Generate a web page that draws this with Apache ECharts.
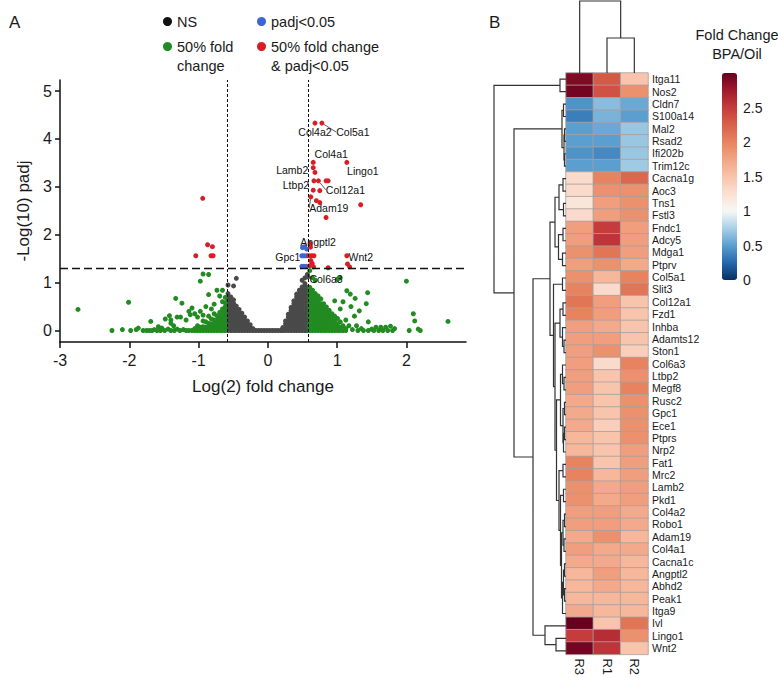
<!DOCTYPE html>
<html>
<head>
<meta charset="utf-8">
<script src="https://cdn.jsdelivr.net/npm/echarts@6/dist/echarts.min.js"></script>
<style>
  html, body { margin: 0; padding: 0; background: #fff; }
  #chart { width: 778px; height: 678px; }
</style>
</head>
<body>
<div id="chart"></div>
<script>
const FONT = "'Liberation Sans', Arial, sans-serif";

// ---------- panel A : volcano plot (x = log2 fold change, y = -log10 padj) ----------
// grey cloud, read column by column: [x, [y...]]
const nsCols = [
  [-0.575, [0, .07, .14, .21, .28, .35, .42, .49, .56, .63, .70, .77, .95]],
  [-0.535, [0, .07, .14, .21, .28, .35, .42, .49, .56, .63, .70]],
  [-0.495, [0, .07, .14, .21, .28, .35, .42, .49, .57, .64, .93]],
  [-0.455, [0, .07, .14, .21, .28, .35, .43, .51, 1.09]],
  [-0.415, [0, .07, .14, .21, .28, .36, .44]],
  [-0.375, [0, .07, .14, .21, .28, .36]],
  [-0.335, [0, .07, .14, .21, .28]],
  [-0.295, [0, .07, .14, .2]],
  [-0.255, [0, .06, .12]],
  [-0.215, [0, .04]],
  [-0.175, [0]], [-0.135, [0]], [-0.095, [0]], [-0.055, [0]], [-0.015, [0]],
  [0.025, [0]], [0.065, [0]], [0.105, [0]], [0.145, [0]], [0.185, [0]],
  [0.215, [0, .06]],
  [0.255, [0, .07, .14, .2]],
  [0.295, [0, .07, .14, .21, .28, .34]],
  [0.335, [0, .07, .14, .21, .28, .35, .42, .48]],
  [0.375, [0, .07, .14, .21, .28, .35, .42, .49, .56, .62]],
  [0.415, [0, .07, .14, .21, .28, .35, .42, .49, .56, .63, .7, .76]],
  [0.455, [0, .07, .14, .21, .28, .35, .42, .49, .56, .63, .7, .77, .84]],
  [0.495, [0, .07, .14, .21, .28, .35, .42, .49, .56, .63, .7, .77, .84, .91, 1.05]],
  [0.535, [0, .07, .14, .21, .28, .35, .42, .49, .56, .63, .7, .77, .84, .91, .98, 1.1]],
  [0.57, [0, .07, .14, .21, .28, .35, .42, .49, .56, .63, .7, .77, .84, .9, 1.17]]
];
const nsNamed = [[0.58, 1.12, 'Col6a3']];

// green: |log2FC| > 0.585, padj not significant
const fcCols = [
  [-0.615, [0, .07, .14, .21, .28, .35, .42, .5, .58, .69]],
  [-0.655, [0, .07, .14, .21, .28, .36, .45, .6, .84]],
  [-0.695, [0, .07, .14, .21, .29, .38, .72]],
  [-0.735, [0, .07, .14, .22, .31, .84]],
  [-0.775, [0, .07, .14, .22, .35, .55]],
  [-0.815, [0, .07, .14, .24, .45]],
  [-0.855, [0, .07, .15, .3, .75, 1.17]],
  [-0.895, [0, .07, .18, .5]],
  [-0.935, [0, .08, .2, .32, 1.18]],
  [-0.975, [0, .07, .4, 1.03]],
  [-1.015, [0, .1, .28]],
  [-1.055, [0, .04, .35]],
  [-1.095, [0, .47]],
  [0.605, [0, .07, .14, .21, .28, .35, .42, .49, .56, .63, .7, .77, .84, .9, 1.25]],
  [0.645, [0, .07, .14, .21, .28, .35, .42, .49, .56, .63, .7, .77, .84, 1.1]],
  [0.685, [0, .07, .14, .21, .28, .35, .42, .49, .56, .63, .7, .77, 1.05]],
  [0.725, [0, .07, .14, .21, .28, .35, .42, .49, .56, .63, .72]],
  [0.765, [0, .07, .14, .21, .28, .35, .42, .49, .56, .66]],
  [0.805, [0, .07, .14, .21, .28, .35, .42, .49, .56]],
  [0.845, [0, .07, .14, .21, .28, .35, .42, .49]],
  [0.885, [0, .07, .14, .21, .28, .35, .42]],
  [0.925, [0, .07, .14, .21, .28, .35]],
  [0.965, [0, .07, .14, .21, .3, .62]],
  [1.005, [0, .07, .14, .25, 1.07]],
  [1.045, [0, .07, .18, .45, 1.1]],
  [1.085, [0, .1, .6]],
  [1.125, [0, .04, .22]]
];
const fcScatter = [
  [-2.74, .44], [-2.25, 0], [-2.1, .02], [-2.01, .59], [-1.98, 0], [-1.9, .02], [-1.87, .05],
  [-1.8, 0], [-1.75, 0], [-1.71, 0], [-1.69, .19], [-1.67, 0], [-1.64, .02], [-1.6, 0],
  [-1.58, .08], [-1.55, 0], [-1.53, .05], [-1.49, 0], [-1.48, .24], [-1.44, .03], [-1.42, .31],
  [-1.4, .22], [-1.4, .15], [-1.4, 0], [-1.36, .1], [-1.35, 0], [-1.33, .67], [-1.31, .28],
  [-1.31, .03], [-1.27, 0], [-1.26, .28], [-1.24, .57], [-1.22, .02], [-1.18, .22], [-1.18, 0],
  [-1.14, .4], [-1.14, 0], [-1.12, .33],
  [1.14, .83], [1.19, .76], [1.17, .1], [1.2, .5], [1.22, .02], [1.25, .3], [1.26, .67],
  [1.28, .1], [1.3, 0], [1.32, .41], [1.35, .04], [1.38, 0], [1.42, .56], [1.44, .79],
  [1.45, .18], [1.45, 0], [1.5, .03], [1.53, 0], [1.56, .07], [1.6, 0], [1.63, .07], [1.66, 0],
  [1.7, .07], [1.73, 0], [1.77, .09], [1.8, 0], [1.83, .04], [2.0, 1.03], [2.04, 0],
  [2.1, .35], [2.12, .2], [2.17, .03], [2.2, 0], [2.6, .19]
];

// blue: padj < 0.05 only
const padjPts = [
  [0.50, 1.73], [0.53, 1.75], [0.56, 1.70], [0.49, 1.56, 'Gpc1'], [0.52, 1.56], [0.555, 1.56],
  [0.49, 1.34], [0.52, 1.34], [0.555, 1.34]
];

// red: both thresholds
const sigPts = [
  [-0.94, 2.76], [-0.87, 1.79], [-0.80, 1.75], [-1.04, 1.56], [-0.82, 1.56], [-0.79, 1.56],
  [0.68, 4.33, 'Col4a2'], [0.78, 4.33, 'Col5a1'],
  [0.655, 3.51, 'Col4a1'], [1.14, 3.51, 'Lingo1'], [0.655, 3.40, 'Lamb2'], [0.68, 3.30],
  [0.665, 3.125, 'Ltbp2'], [0.73, 3.125, 'Col12a1'], [0.84, 3.125], [0.87, 3.125],
  [0.655, 2.93], [0.75, 2.92], [0.62, 2.79, 'Adam19'], [0.70, 2.71], [0.75, 2.67],
  [1.34, 2.625], [0.84, 2.36],
  [0.61, 1.82, 'Angptl2'], [0.615, 1.74], [0.59, 1.56], [0.63, 1.56], [0.665, 1.56],
  [0.62, 1.46], [0.64, 1.40], [0.60, 1.35], [0.66, 1.33], [0.87, 1.31],
  [1.14, 1.56, 'Wnt2'], [1.15, 1.39], [1.18, 1.33]
];

const xTicks = [-3, -2, -1, 0, 1, 2];
const yTicks = [0, 1, 2, 3, 4, 5];
const fcCut = 0.585;    // log2(1.5)
const padjCut = 1.301;  // -log10(0.05)

// label placement (dx, dy from the point) and which get a guide line
const labelNudge = {
  Col4a2: [0, 9], Col5a1: [31, 9], Col4a1: [18, -8], Lingo1: [16, 9], Lamb2: [-21, 2],
  Ltbp2: [-18, 4], Col12a1: [27, 9], Adam19: [18, 11], Angptl2: [8, -1], Gpc1: [-14, 1],
  Wnt2: [14, 1], Col6a3: [18, 2]
};
const withLine = ['Col5a1', 'Col12a1', 'Adam19', 'Col6a3'];

// ---------- panel B : heatmap ----------
const samples = ['R3', 'R1', 'R2'];
const genes = ['Itga11', 'Nos2', 'Cldn7', 'S100a14', 'Mal2', 'Rsad2', 'Ifi202b', 'Trim12c',
  'Cacna1g', 'Aoc3', 'Tns1', 'Fstl3', 'Fndc1', 'Adcy5', 'Mdga1', 'Ptprv', 'Col5a1', 'Slit3',
  'Col12a1', 'Fzd1', 'Inhba', 'Adamts12', 'Ston1', 'Col6a3', 'Ltbp2', 'Megf8', 'Rusc2', 'Gpc1',
  'Ece1', 'Ptprs', 'Nrp2', 'Fat1', 'Mrc2', 'Lamb2', 'Pkd1', 'Col4a2', 'Robo1', 'Adam19',
  'Col4a1', 'Cacna1c', 'Angptl2', 'Abhd2', 'Peak1', 'Itga9', 'Ivl', 'Lingo1', 'Wnt2'];
// fold change BPA/Oil per gene: [R3, R1, R2]
const foldChange = [
  [2.9, 2.3, 1.5], [2.95, 2.35, 1.9], [0.45, 0.65, 0.55], [0.35, 0.6, 0.5],
  [0.5, 0.55, 0.7], [0.5, 0.5, 0.7], [0.45, 0.4, 0.7], [0.5, 0.5, 0.72],
  [1.3, 2.0, 2.2], [1.3, 1.9, 1.9], [1.2, 1.8, 1.9], [1.3, 1.8, 1.9],
  [1.8, 2.5, 1.8], [1.8, 2.55, 1.8], [1.9, 2.1, 1.8], [1.8, 1.9, 1.7],
  [1.9, 1.6, 2.0], [2.0, 1.3, 2.1], [2.1, 1.8, 1.5], [2.0, 1.8, 1.5],
  [1.8, 1.7, 1.5], [1.8, 1.8, 1.5], [1.8, 1.9, 1.4], [1.8, 1.3, 2.0],
  [1.8, 1.5, 1.9], [1.8, 1.5, 2.0], [1.7, 1.5, 1.9], [1.7, 1.5, 1.9],
  [1.7, 1.4, 1.9], [1.6, 1.5, 1.9], [1.6, 1.5, 1.8], [2.0, 1.5, 1.8],
  [2.0, 1.6, 1.8], [1.9, 1.7, 1.8], [1.9, 1.7, 1.8], [1.8, 1.8, 1.7],
  [1.8, 1.8, 1.7], [1.7, 1.9, 1.6], [1.8, 1.7, 1.7], [1.7, 1.7, 1.6],
  [1.6, 1.8, 1.6], [1.6, 1.7, 1.6], [1.6, 1.6, 1.6], [1.7, 1.6, 1.6],
  [3.0, 1.5, 2.1], [2.5, 2.6, 1.9], [2.95, 2.55, 1.5]
];
const legendTicks = [0, 0.5, 1, 1.5, 2, 2.5];

// dendrograms: [left, right, merge height], leaves are row / column indices
const rowTree = [
  [0, 1, 0.6],
  [
    [[2, 3, 0.25], [[4, 5, 0.15], [6, 7, 0.15], 0.2], 0.4],
    [
      [
        [[[8, 9, 0.3], [10, 11, 0.25], 0.7], [[12, 13, 0.3], [14, 15, 0.35], 0.75], 1.1],
        [
          [16, 17, 0.35],
          [
            [[18, 19, 0.3], [20, [21, 22, 0.2], 0.35], 0.6],
            [
              [[23, [24, 25, 0.2], 0.35], [[26, 27, 0.15], [[28, 29, 0.15], 30, 0.25], 0.3], 0.55],
              [[31, 32, 0.3], [[33, 34, 0.25], [[[35, 36, 0.15], [37, 38, 0.2], 0.3],
                [[[39, 40, 0.15], [41, 42, 0.15], 0.25], 43, 0.35], 0.45], 0.55], 0.7],
              0.95
            ],
            1.1
          ],
          1.25
        ],
        1.6
      ],
      [44, [45, 46, 1.0], 2.1],
      3.3
    ],
    5.2
  ],
  7.2
];
const colTree = [0, [1, 2, 3.55], 7.3];

function colsToPts(cols) {
  const out = [];
  cols.forEach(([x, ys]) => ys.forEach(y => out.push([x, y])));
  return out;
}

function toItems(pts) {
  return pts.map(p => {
    if (!p[2]) return [p[0], p[1]];
    return {
      value: [p[0], p[1]],
      name: p[2],
      label: { show: true, formatter: p[2] },
      labelLine: { show: withLine.includes(p[2]) }
    };
  });
}

function dendro(node, segs) {
  if (typeof node === 'number') return { pos: node, h: 0 };
  const a = dendro(node[0], segs);
  const b = dendro(node[1], segs);
  const h = node[2];
  segs.push([[a.h, a.pos], [h, a.pos], [h, b.pos], [b.h, b.pos]]);
  return { pos: (a.pos + b.pos) / 2, h };
}

const rowSegs = [];
dendro(rowTree, rowSegs);
const colSegs = [];
dendro(colTree, colSegs);

const heatData = [];
foldChange.forEach((row, gi) => row.forEach((v, si) => heatData.push([si, gi, v])));

// a blank first line keeps the dot level with the first line of a two-line entry
const legendText = {
  'NS': 'NS',
  'padj<0.05': 'padj<0.05',
  '50% fold change': '\n50% fold\nchange',
  '50% fold change & padj<0.05': '\n50% fold change\n& padj<0.05'
};

const pointLabel = {
  show: false,
  position: 'inside',
  fontSize: 10.5,
  color: '#111',
  fontFamily: FONT
};
function nudgeLayout(params) {
  const n = labelNudge[params.text];
  if (!n) return {};
  return { dx: n[0], dy: n[1] };
}

const legendBase = {
  selectedMode: false,
  icon: 'circle',
  itemWidth: 9,
  itemHeight: 9,
  padding: 0,
  orient: 'vertical',
  formatter: name => legendText[name],
  textStyle: { fontSize: 14.5, color: '#1a1a1a', fontFamily: FONT, lineHeight: 19 }
};

const chart = echarts.init(document.getElementById('chart'), null, { renderer: 'svg' });

const option = {
  animation: false,
  textStyle: { fontFamily: FONT },
  title: [
    { text: 'A', left: 4, top: 9, textStyle: { fontSize: 17, fontWeight: 'normal', color: '#1a1a1a' } },
    { text: 'B', left: 484, top: 9, textStyle: { fontSize: 17, fontWeight: 'normal', color: '#1a1a1a' } },
    {
      text: 'Fold Change\nBPA/Oil', left: 732, top: 20, textAlign: 'center',
      textStyle: { fontSize: 14.5, fontWeight: 'normal', color: '#1a1a1a', lineHeight: 19 }
    }
  ],
  legend: [
    Object.assign({}, legendBase, { left: 163, top: 12, data: [{ name: 'NS', itemStyle: { color: '#111' } }] }),
    Object.assign({}, legendBase, { left: 257, top: 12, data: ['padj<0.05'] }),
    Object.assign({}, legendBase, { left: 163, top: 18, data: ['50% fold change'] }),
    Object.assign({}, legendBase, { left: 257, top: 18, data: ['50% fold change & padj<0.05'] })
  ],
  grid: [
    { left: 60, top: 80, width: 406, height: 262 },      // volcano
    { left: 492, top: 73, width: 74, height: 584 },      // row dendrogram
    { left: 566, top: 73, width: 82, height: 584 },      // heatmap
    { left: 566, top: 0, width: 82, height: 73 },        // column dendrogram
    { left: 722, top: 73, width: 15, height: 207 }       // colour bar axis
  ],
  xAxis: [
    {
      gridIndex: 0, type: 'value', min: -3, max: 2.86,
      name: 'Log(2) fold change', nameLocation: 'middle', nameGap: 36,
      nameTextStyle: { fontSize: 17, color: '#1a1a1a' },
      splitLine: { show: false },
      axisLine: { onZero: false, lineStyle: { color: '#111', width: 1.5 } },
      axisTick: { length: 6, customValues: xTicks, lineStyle: { color: '#111', width: 1.5 } },
      axisLabel: { customValues: xTicks, fontSize: 16, color: '#1a1a1a', margin: 10 }
    },
    { gridIndex: 1, type: 'value', min: 0, max: 7.4, inverse: true, show: false },
    {
      gridIndex: 2, type: 'category', data: samples, position: 'bottom',
      axisLine: { show: false }, axisTick: { show: false },
      axisLabel: { rotate: -90, fontSize: 13, color: '#1a1a1a', margin: 4 }
    },
    { gridIndex: 3, type: 'value', min: -0.5, max: 2.5, show: false },
    { gridIndex: 4, type: 'value', min: 0, max: 1, show: false }
  ],
  yAxis: [
    {
      gridIndex: 0, type: 'value', min: -0.24, max: 5.23,
      name: '-Log(10) padj', nameLocation: 'middle', nameGap: 22, nameRotate: 90,
      nameTextStyle: { fontSize: 17, color: '#1a1a1a' },
      splitLine: { show: false },
      axisLine: { onZero: false, lineStyle: { color: '#111', width: 1.5 } },
      axisTick: { length: 5, customValues: yTicks, lineStyle: { color: '#111', width: 1.5 } },
      axisLabel: { customValues: yTicks, fontSize: 16, color: '#1a1a1a', margin: 8 }
    },
    { gridIndex: 1, type: 'value', min: -0.5, max: 46.5, inverse: true, show: false },
    {
      gridIndex: 2, type: 'category', data: genes, inverse: true, position: 'right',
      axisLine: { show: false }, axisTick: { show: false },
      axisLabel: { interval: 0, fontSize: 10.5, lineHeight: 12, color: '#1a1a1a', margin: 4 }
    },
    { gridIndex: 3, type: 'value', min: 0, max: 7.4, show: false },
    {
      gridIndex: 4, type: 'value', min: 0, max: 3, position: 'right',
      axisLine: { show: false }, axisTick: { show: false }, splitLine: { show: false },
      axisLabel: { customValues: legendTicks, fontSize: 14, color: '#1a1a1a', margin: 6 }
    }
  ],
  visualMap: {
    type: 'continuous', min: 0, max: 3, seriesIndex: 4, calculable: false,
    left: 722, top: 73, itemWidth: 15, itemHeight: 207, padding: 0, text: ['', ''],
    inRange: {
      color: ['#053061', '#2468ad', '#5a9fcf', '#a9d0e6', '#f7f7f7', '#fbe0d2', '#f8c4ab',
        '#f2a484', '#e7845f', '#d8614a', '#c43c3b', '#a11a2c', '#67001f']
    }
  },
  series: [
    {
      name: 'NS', type: 'scatter', xAxisIndex: 0, yAxisIndex: 0, symbolSize: 5,
      itemStyle: { color: '#4a4a4a', opacity: 1 },
      data: toItems(colsToPts(nsCols).concat(nsNamed)),
      label: pointLabel, labelLayout: nudgeLayout,
      labelLine: { lineStyle: { color: '#333', width: 0.8 } }
    },
    {
      name: '50% fold change', type: 'scatter', xAxisIndex: 0, yAxisIndex: 0, symbolSize: 5,
      itemStyle: { color: '#228b22', opacity: 1 },
      data: toItems(colsToPts(fcCols).concat(fcScatter))
    },
    {
      name: 'padj<0.05', type: 'scatter', xAxisIndex: 0, yAxisIndex: 0, symbolSize: 5,
      itemStyle: { color: '#3b66d6', opacity: 1 },
      data: toItems(padjPts),
      label: pointLabel, labelLayout: nudgeLayout
    },
    {
      name: '50% fold change & padj<0.05', type: 'scatter', xAxisIndex: 0, yAxisIndex: 0, symbolSize: 5,
      itemStyle: { color: '#dc1c24', opacity: 1 },
      data: toItems(sigPts),
      label: pointLabel, labelLayout: nudgeLayout,
      labelLine: { lineStyle: { color: '#333', width: 0.8 } },
      markLine: {
        silent: true, symbol: 'none', label: { show: false },
        lineStyle: { color: '#111' },
        data: [
          { yAxis: padjCut, lineStyle: { type: [8, 4], width: 1.3 } },
          { xAxis: -fcCut, lineStyle: { type: [3, 2], width: 1 } },
          { xAxis: fcCut, lineStyle: { type: [3, 2], width: 1 } }
        ]
      }
    },
    {
      name: 'heat', type: 'heatmap', xAxisIndex: 2, yAxisIndex: 2, data: heatData,
      itemStyle: { borderColor: '#a8a0a0', borderWidth: 0.8 }
    },
    {
      type: 'lines', coordinateSystem: 'cartesian2d', xAxisIndex: 1, yAxisIndex: 1, polyline: true,
      silent: true, lineStyle: { color: '#333', width: 1.2, opacity: 1 },
      data: rowSegs.map(c => ({ coords: c }))
    },
    {
      type: 'lines', coordinateSystem: 'cartesian2d', xAxisIndex: 3, yAxisIndex: 3, polyline: true,
      silent: true, lineStyle: { color: '#333', width: 1.2, opacity: 1 },
      data: colSegs.map(c => ({ coords: c.map(p => [p[1], p[0]]) }))
    }
  ]
};

chart.setOption(option);
</script>
</body>
</html>
